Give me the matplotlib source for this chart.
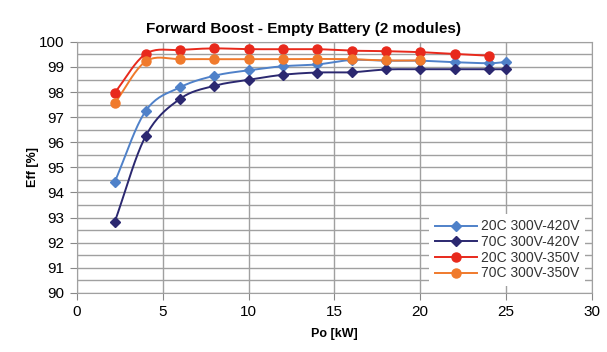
import numpy as np
import matplotlib
matplotlib.use('Agg')
import matplotlib.pyplot as plt

plt.rcParams['font.family'] = ['Liberation Sans', 'DejaVu Sans']

# data
po_420 = [2.2, 4, 6, 8, 10, 12, 14, 16, 18, 20, 22, 24, 25]
eff_20c_420 = [94.43, 97.25, 98.19, 98.65, 98.87, 99.03, 99.1, 99.28, 99.25, 99.25, 99.19, 99.15, 99.2]
eff_70c_420 = [92.84, 96.25, 97.73, 98.25, 98.49, 98.69, 98.78, 98.79, 98.9, 98.91, 98.91, 98.91, 98.91]

po_20c_350 = [2.2, 4, 6, 8, 10, 12, 14, 16, 18, 20, 22, 24]
eff_20c_350 = [97.98, 99.52, 99.68, 99.74, 99.71, 99.71, 99.71, 99.65, 99.63, 99.59, 99.52, 99.45]

po_70c_350 = [2.2, 4, 6, 8, 10, 12, 14, 16, 18, 20]
eff_70c_350 = [97.56, 99.22, 99.31, 99.31, 99.31, 99.31, 99.32, 99.31, 99.26, 99.26]

labels = ['20C 300V-420V', '70C 300V-420V', '20C 300V-350V', '70C 300V-350V']
colors = ['#4f81c9', '#2b2870', '#e8291c', '#f07a2c']
markers = ['D', 'D', 'o', 'o']


def smooth(x, y, n=20):
    # catmull-rom style smoothing, like the spreadsheet "smoothed line"
    x = np.asarray(x, float)
    y = np.asarray(y, float)
    px = np.concatenate([[2 * x[0] - x[1]], x, [2 * x[-1] - x[-2]]])
    py = np.concatenate([[2 * y[0] - y[1]], y, [2 * y[-1] - y[-2]]])
    xs, ys = [], []
    t = np.linspace(0, 1, n, endpoint=False)
    for i in range(1, len(px) - 2):
        for p, out in ((px, xs), (py, ys)):
            p0, p1, p2, p3 = p[i - 1], p[i], p[i + 1], p[i + 2]
            out.extend(0.5 * ((2 * p1) + (-p0 + p2) * t
                              + (2 * p0 - 5 * p1 + 4 * p2 - p3) * t ** 2
                              + (-p0 + 3 * p1 - 3 * p2 + p3) * t ** 3))
    xs.append(x[-1])
    ys.append(y[-1])
    return xs, ys


fig = plt.figure(figsize=(6.07, 3.52), dpi=100)
ax = fig.add_axes([0.127, 0.168, 0.848, 0.713])

series = [(po_420, eff_20c_420), (po_420, eff_70c_420),
          (po_20c_350, eff_20c_350), (po_70c_350, eff_70c_350)]
for (x, y), lab, c, m in zip(series, labels, colors, markers):
    sx, sy = smooth(x, y)
    ms = 6.5 if m == 'o' else 5.5
    ax.plot(sx, sy, color=c, lw=1.4, zorder=3)
    ax.plot(x, y, ls='none', marker=m, ms=ms, color=c, zorder=4)
    ax.plot([], [], color=c, lw=1.4, marker=m, ms=ms, label=lab)

ax.set_xlim(0, 30)
ax.set_ylim(90, 100)
ax.set_xticks(range(0, 31, 5))
ax.set_yticks(range(90, 101))
ax.set_yticks(np.arange(90.5, 100, 1), minor=True)
ax.grid(True, which='major', color='#a0a0a0', lw=1.0)
ax.grid(True, which='minor', axis='y', color='#a0a0a0', lw=1.0)
ax.set_axisbelow(True)
for s in ax.spines.values():
    s.set_color('#a0a0a0')
ax.tick_params(which='major', length=5, color='#888888', labelsize=11, pad=4)
ax.tick_params(which='minor', length=0)

fig.text(0.5, 0.897, 'Forward Boost - Empty Battery (2 modules)', ha='center', va='bottom',
         fontsize=11, fontweight='bold')
ax.set_xlabel('Po [kW]', fontsize=9, fontweight='bold', labelpad=6)
ax.set_ylabel('Eff [%]', fontsize=9, fontweight='bold', labelpad=0)

leg = ax.legend(loc='lower right', bbox_to_anchor=(1.0, 0.0), frameon=True, fancybox=False,
                fontsize=10, handlelength=3.0, labelspacing=0.12, borderpad=0.4,
                handletextpad=0.3, labelcolor='#333333')
leg.get_frame().set_edgecolor('none')
leg.get_frame().set_facecolor('white')
leg.get_frame().set_alpha(1)

fig.savefig('out.png', dpi=100)
